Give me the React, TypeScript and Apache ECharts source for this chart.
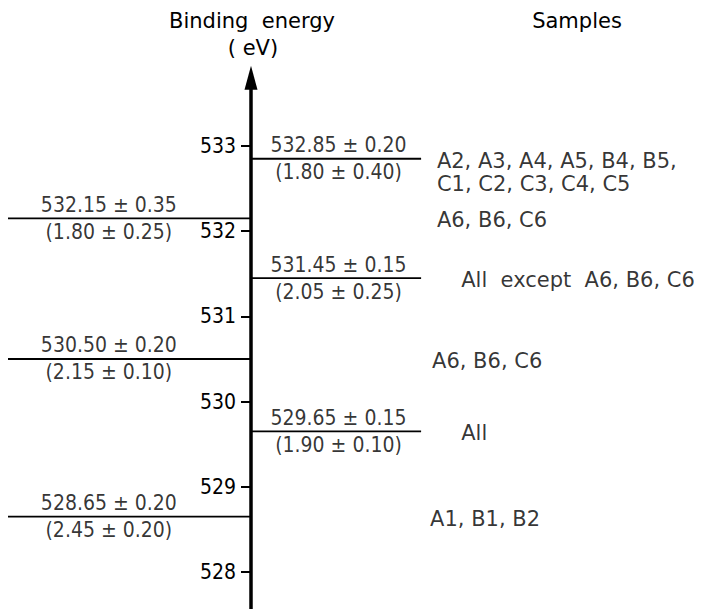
import React, { useEffect, useRef } from 'react';
import * as echarts from 'echarts';

// ---- data ----
const tickValues = [528, 529, 530, 531, 532, 533];
const energies = [532.85, 532.15, 531.45, 530.5, 529.65, 528.65];
const energyErrors = [0.2, 0.35, 0.15, 0.2, 0.15, 0.2];
const fwhmValues = [1.8, 1.8, 2.05, 2.15, 1.9, 2.45];
const fwhmErrors = [0.4, 0.25, 0.25, 0.1, 0.1, 0.2];
const levelSides = ['right', 'left', 'right', 'left', 'right', 'left'];
const sampleGroups = [
  ['A2, A3, A4, A5, B4, B5,', 'C1, C2, C3, C4, C5'],
  ['A6, B6, C6'],
  ['All  except  A6, B6, C6'],
  ['A6, B6, C6'],
  ['All'],
  ['A1, B1, B2'],
];
const axisTitle = ['Binding  energy', '( eV)'];
const samplesTitle = 'Samples';

// ---- layout ----
// grid 0 = left of the axis (x from -1 to 0), grid 1 = right of the axis (x from 0 to 1.8)
const FONT_C = "'DejaVu Sans Condensed', 'DejaVu Sans', sans-serif";
const FONT_R = "'DejaVu Sans', sans-serif";
const FS = 21;
const Y_MIN = 527.5;
const Y_MAX = 533.8;
const LINE_SPAN: Record<string, [number, number]> = { left: [-1, 0], right: [0, 0.7] };
const LABEL_X: Record<string, number> = { left: -0.585, right: 0.36 };
const SAMPLE_X = [0.765, 0.765, 0.865, 0.745, 0.865, 0.737];

export default function App() {
  const ref = useRef<HTMLDivElement>(null);
  useEffect(() => {
    if (!ref.current) return;
    const chart = echarts.init(ref.current, undefined, { renderer: 'svg' });
    const gi = (side: string) => (side === 'left' ? 0 : 1);

    const lineSeries = energies.map((e, i) => {
      const [x0, x1] = LINE_SPAN[levelSides[i]];
      return {
        type: 'line',
        xAxisIndex: gi(levelSides[i]),
        yAxisIndex: gi(levelSides[i]),
        data: [[x0, e], [x1, e]],
        symbol: 'none',
        silent: true,
        lineStyle: { color: '#000', width: 1.8 },
        z: 2,
      };
    });

    const valueLabelSeries = [0, 1].map((g) => ({
      type: 'scatter',
      xAxisIndex: g,
      yAxisIndex: g,
      symbolSize: 0,
      silent: true,
      itemStyle: { color: '#000' },
      data: energies
        .map((e, i) => ({ e, i }))
        .filter(({ i }) => gi(levelSides[i]) === g)
        .map(({ e, i }) => ({
          value: [LABEL_X[levelSides[i]], e],
          label: {
            show: true,
            position: 'inside',
            color: '#000',
            textBorderWidth: 0,
            formatter: `{a|${e.toFixed(2)} ± ${energyErrors[i].toFixed(2)}}\n{a|(${fwhmValues[i].toFixed(2)} ± ${fwhmErrors[i].toFixed(2)})}`,
            rich: { a: { fontSize: FS, lineHeight: 27, color: '#000', textBorderWidth: 0, fontFamily: FONT_C } },
          },
        })),
    }));

    const sampleLabels = {
      type: 'scatter',
      xAxisIndex: 1,
      yAxisIndex: 1,
      symbolSize: 0,
      silent: true,
      itemStyle: { color: '#000' },
      data: energies.map((e, i) => ({
        value: [SAMPLE_X[i], e],
        label: {
          show: true,
          position: 'right',
          distance: 0,
          color: '#000',
          textBorderWidth: 0,
          offset: [0, 2 + (sampleGroups[i].length - 1) * 11.5],
          formatter: sampleGroups[i].map((s) => `{a|${s}}`).join('\n'),
          rich: { a: { fontSize: FS, lineHeight: 23, color: '#000', textBorderWidth: 0, fontFamily: FONT_R } },
        },
      })),
    };

    const yBase = { type: 'value', min: Y_MIN, max: Y_MAX, splitLine: { show: false } };
    const titleStyle = { fontSize: FS, fontFamily: FONT_R, fill: '#000', textAlign: 'center', textVerticalAlign: 'middle' };

    chart.setOption({
      animation: false,
      backgroundColor: '#fff',
      textStyle: { fontFamily: FONT_C, color: '#000' },
      grid: [
        { left: 8, right: 453, top: 77.8, bottom: -5.6, containLabel: false, outerBoundsMode: 'none' },
        { left: 251, right: 15.6, top: 77.8, bottom: -5.6, containLabel: false, outerBoundsMode: 'none' },
      ],
      xAxis: [
        { type: 'value', gridIndex: 0, min: -1, max: 0, show: false },
        { type: 'value', gridIndex: 1, min: 0, max: 1.8, show: false },
      ],
      yAxis: [
        { ...yBase, gridIndex: 0, show: false },
        {
          ...yBase,
          gridIndex: 1,
          position: 'left',
          axisLine: {
            show: true,
            onZero: false,
            lineStyle: { color: '#000', width: 3.5 },
            symbol: ['none', 'triangle'],
            symbolSize: [13, 24],
          },
          axisTick: {
            show: true,
            length: 10,
            customValues: tickValues,
            lineStyle: { color: '#000', width: 2 },
          },
          axisLabel: {
            show: true,
            customValues: tickValues,
            margin: 15,
            color: '#000',
            fontSize: FS,
            fontFamily: FONT_C,
          },
        },
      ],
      graphic: [
        { type: 'text', x: 252, y: 21, style: { ...titleStyle, text: axisTitle[0] } },
        { type: 'text', x: 253, y: 48, style: { ...titleStyle, text: axisTitle[1] } },
        { type: 'text', x: 577, y: 21, style: { ...titleStyle, text: samplesTitle } },
      ],
      series: [...lineSeries, ...valueLabelSeries, sampleLabels],
    });
    return () => chart.dispose();
  }, []);
  return <div ref={ref} style={{ position: 'fixed', left: 0, top: 0, width: 704, height: 609 }} />;
}
